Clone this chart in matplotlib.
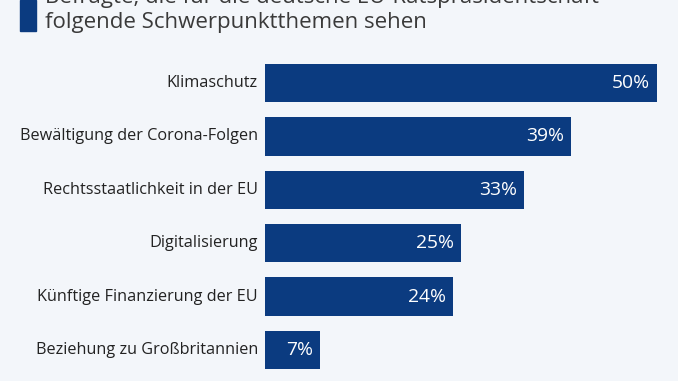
import matplotlib.pyplot as plt
from matplotlib.patches import Rectangle

plt.rcParams['font.family'] = ['Open Sans', 'DejaVu Sans']

themen = ['Klimaschutz', 'Bewältigung der Corona-Folgen', 'Rechtsstaatlichkeit in der EU',
          'Digitalisierung', 'Künftige Finanzierung der EU', 'Beziehung zu Großbritannien']
anteile = [50, 39, 33, 25, 24, 7]

bg = '#f3f6fa'
blau = '#0b3b80'
W, H = 678, 381

fig = plt.figure(figsize=(W / 100, H / 100), dpi=100, facecolor=bg)

# title (cut off at the top, as in the original)
fig.text(45 / W, 1 - 3 / H, 'Befragte, die für die deutsche EU-Ratspräsidentschaft',
         fontsize=16, color='#3a3a3a', va='baseline', ha='left')
fig.text(45 / W, 1 - 28 / H, 'folgende Schwerpunktthemen sehen',
         fontsize=16, color='#3a3a3a', va='baseline', ha='left')
fig.patches.append(Rectangle((20 / W, 1 - 31 / H), 16 / W, 31 / H,
                             transform=fig.transFigure, color=blau))

ax = fig.add_axes([265 / W, 1 - 376.7 / H, (657 - 265) / W, (376.7 - 56.3) / H])
ax.set_facecolor(bg)
pos = list(range(len(themen)))
ax.barh(pos, anteile, height=0.72, color=blau)
ax.set_xlim(0, 50)
ax.set_ylim(len(themen) - 0.5, -0.5)

for p, name, v in zip(pos, themen, anteile):
    ax.annotate(name, (0, p), xytext=(-7, 0), textcoords='offset pixels',
                ha='right', va='center', fontsize=11.7, color='#222222')
    ax.annotate(f'{v}%', (v, p), xytext=(-7, 0), textcoords='offset pixels',
                ha='right', va='center', fontsize=13.9, color='white')

ax.set_xticks([])
ax.set_yticks([])
for s in ax.spines.values():
    s.set_visible(False)

fig.savefig('out.png', dpi=100, facecolor=bg)
